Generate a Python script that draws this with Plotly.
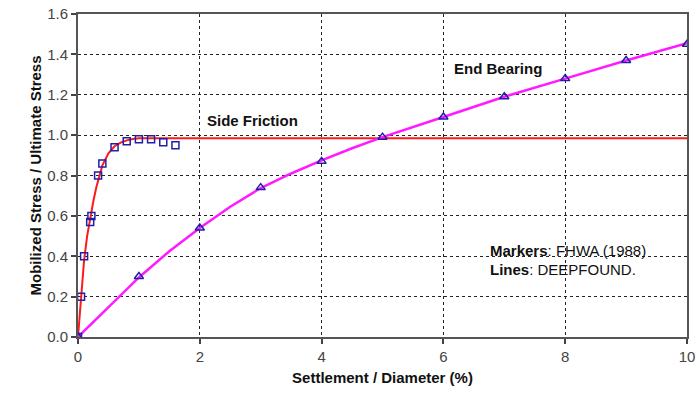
import plotly.graph_objects as go

# FHWA (1988) measurements
side_x = [0, 0.05, 0.1, 0.2, 0.22, 0.33, 0.4, 0.6, 0.8, 1.0, 1.2, 1.4, 1.6]
side_y = [0, 0.2, 0.4, 0.57, 0.6, 0.8, 0.86, 0.94, 0.97, 0.98, 0.98, 0.965, 0.95]
end_x = [0, 1, 2, 3, 4, 5, 6, 7, 8, 9, 10]
end_y = [0, 0.3, 0.54, 0.74, 0.87, 0.99, 1.09, 1.19, 1.28, 1.37, 1.45]

# DEEPFOUND curves
side_line_x = [0, 0.05, 0.1, 0.15, 0.2, 0.25, 0.3, 0.35, 0.4, 0.5, 0.6, 0.7, 0.8, 0.9, 1.0, 10]
side_line_y = [0, 0.2, 0.38, 0.5, 0.59, 0.67, 0.74, 0.8, 0.85, 0.91, 0.945, 0.963, 0.974, 0.981, 0.985, 0.985]
end_line_x = [0, 0.5, 1, 1.5, 2, 2.5, 3, 3.5, 4, 4.5, 5, 6, 7, 8, 9, 10]
end_line_y = [0, 0.145, 0.295, 0.425, 0.54, 0.645, 0.738, 0.81, 0.875, 0.935, 0.99, 1.09, 1.19, 1.28, 1.37, 1.455]

x_ticks = [0, 2, 4, 6, 8, 10]
y_ticks = [0.0, 0.2, 0.4, 0.6, 0.8, 1.0, 1.2, 1.4, 1.6]

FONT = "Liberation Sans, Arial, sans-serif"
MARK = "#1f1fa8"

fig = go.Figure()
fig.add_trace(go.Scatter(x=side_line_x, y=side_line_y, mode="lines",
                         line=dict(color="#ff1a1a", width=2)))
fig.add_trace(go.Scatter(x=end_line_x, y=end_line_y, mode="lines",
                         line=dict(color="#ff1aff", width=2.5)))
fig.add_trace(go.Scatter(x=side_x, y=side_y, mode="markers",
                         marker=dict(symbol="square-open", size=7, color=MARK,
                                     line=dict(width=1.5, color=MARK))))
fig.add_trace(go.Scatter(x=end_x, y=end_y, mode="markers",
                         marker=dict(symbol="triangle-up-open", size=8, color=MARK,
                                     line=dict(width=1.5, color=MARK))))

fig.add_annotation(x=2.08, y=1.07, text="<b>Side Friction</b>", showarrow=False,
                   xanchor="left", font=dict(size=15, color="#111", family=FONT))
fig.add_annotation(x=6.14, y=1.33, text="<b>End Bearing</b>", showarrow=False,
                   xanchor="left", font=dict(size=15, color="#111", family=FONT))
fig.add_annotation(x=6.74, y=0.43, text="<b>Markers</b>: FHWA (1988)", showarrow=False,
                   xanchor="left", font=dict(size=15, color="#111", family=FONT))
fig.add_annotation(x=6.74, y=0.335, text="<b>Lines</b>: DEEPFOUND.", showarrow=False,
                   xanchor="left", font=dict(size=15, color="#111", family=FONT))

axis_common = dict(
    showline=True, linecolor="#555", linewidth=2, mirror=True,
    showgrid=True, gridcolor="#222", gridwidth=1.3, griddash="3px,3px",
    ticks="outside", ticklen=5, tickcolor="#444", tickwidth=1.5,
    zeroline=False, automargin=False,
    tickfont=dict(size=15, color="#444", family=FONT),
)

fig.update_xaxes(range=[0, 10], tickvals=x_ticks, **axis_common,
                 title=dict(text="<b>Settlement / Diameter (%)</b>",
                            font=dict(size=15, color="#111", family=FONT), standoff=8))
fig.update_yaxes(range=[0, 1.6], tickvals=y_ticks, tickformat=".1f", **axis_common,
                 title=dict(text="<b>Mobilized Stress / Ultimate Stress</b>",
                            font=dict(size=15, color="#111", family=FONT), standoff=2))

fig.update_layout(width=698, height=396, showlegend=False,
                  margin=dict(l=78, r=11, t=14, b=59),
                  plot_bgcolor="white", paper_bgcolor="white")

fig.write_html("out.html")
